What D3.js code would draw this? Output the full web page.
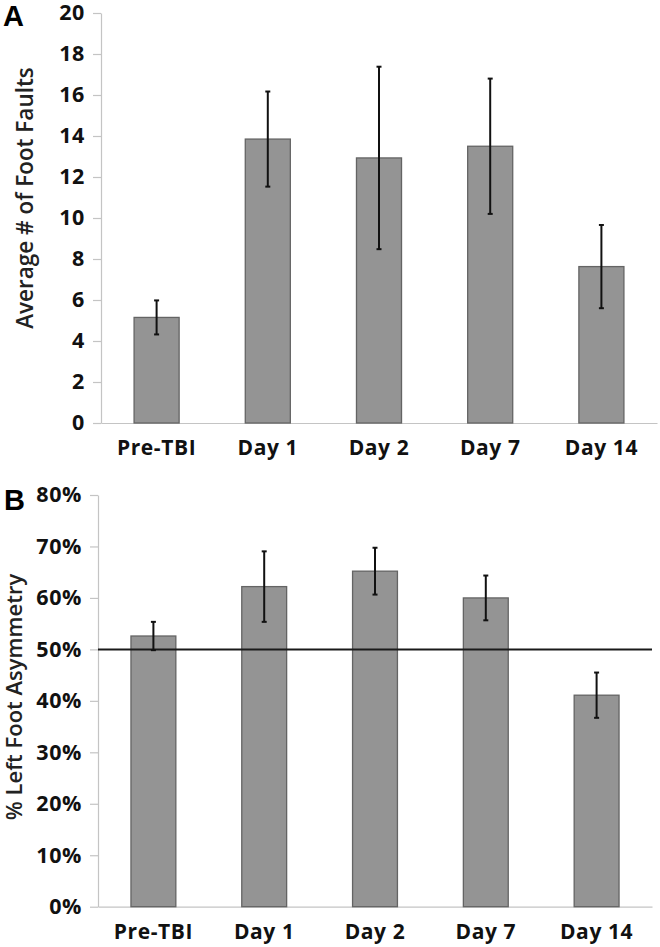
<!DOCTYPE html>
<html><head><meta charset="utf-8">
<script src="https://cdnjs.cloudflare.com/ajax/libs/d3/7.8.5/d3.min.js"></script>
<style>
html,body{margin:0;padding:0;background:#fff;}
svg{display:block;}
</style></head>
<body>
<svg id="chart" width="660" height="947"></svg>
<script>
const categories = ["Pre-TBI","Day 1","Day 2","Day 7","Day 14"];
const footFaults = [5.15, 13.85, 12.93, 13.5, 7.63];
const footFaultsErr = [0.83, 2.32, 4.45, 3.3, 2.03];
const asymmetry = [0.526, 0.622, 0.652, 0.600, 0.411];
const asymmetryErr = [0.0275, 0.0685, 0.0455, 0.0435, 0.044];
const faultTicks = [0,2,4,6,8,10,12,14,16,18,20];
const asymTicks = [0,0.1,0.2,0.3,0.4,0.5,0.6,0.7,0.8];
const referenceLine = 0.5;

const svg = d3.select("#chart");
const FONT = "'Open Sans', sans-serif";
const BAR_FILL = "#949494", BAR_STROKE = "#646464", AXIS = "#c4c4c4";

function panel(cfg){
  const g = svg.append("g");
  const x = d3.scaleBand().domain(categories).range(cfg.xr).paddingInner(0.595).paddingOuter(0.2975);
  const y = d3.scaleLinear().domain(cfg.yd).range(cfg.yr);

  // y axis
  const ya = g.append("g").attr("transform", `translate(${cfg.xr[0]},0)`)
    .call(d3.axisLeft(y).tickValues(cfg.ticks).tickFormat(cfg.fmt).tickSize(8).tickSizeOuter(0).tickPadding(8));
  ya.select(".domain").attr("stroke", AXIS).attr("stroke-width", 1.2);
  ya.selectAll(".tick line").attr("stroke", AXIS).attr("stroke-width", 1.2);
  ya.selectAll(".tick text").attr("font-family", FONT).attr("font-weight", 700)
    .attr("font-size", 21.5).attr("letter-spacing", 0.6).attr("fill", "#111");

  // x axis
  const xa = g.append("g").attr("transform", `translate(0,${cfg.yr[0]})`)
    .call(d3.axisBottom(x).tickSize(0).tickSizeOuter(0).tickPadding(17));
  xa.select(".domain").attr("stroke", AXIS).attr("stroke-width", 1.2);
  xa.selectAll(".tick text").attr("font-family", FONT).attr("font-weight", 700)
    .attr("font-size", 21).attr("letter-spacing", 0.6).attr("fill", "#111");

  // bars
  g.selectAll("rect.bar").data(cfg.values).join("rect").attr("class","bar")
    .attr("x", (d,i)=>x(categories[i])).attr("width", x.bandwidth())
    .attr("y", d=>y(d)).attr("height", d=>y(0)-y(d))
    .attr("fill", BAR_FILL).attr("stroke", BAR_STROKE).attr("stroke-width", 1.3);

  // reference line
  if (cfg.ref !== undefined) {
    g.append("line").attr("x1", cfg.xr[0]).attr("x2", cfg.xr[1])
      .attr("y1", y(cfg.ref)).attr("y2", y(cfg.ref))
      .attr("stroke", "#1a1a1a").attr("stroke-width", 2);
  }

  // error bars
  const eb = g.selectAll("g.err").data(cfg.values).join("g").attr("class","err");
  const cx = i => x(categories[i]) + x.bandwidth()/2;
  eb.append("line").attr("x1",(d,i)=>cx(i)).attr("x2",(d,i)=>cx(i))
    .attr("y1",(d,i)=>y(d+cfg.err[i])).attr("y2",(d,i)=>y(d-cfg.err[i]))
    .attr("stroke","#111").attr("stroke-width",2);
  [1,-1].forEach(s=>{
    eb.append("line").attr("x1",(d,i)=>cx(i)-2.5).attr("x2",(d,i)=>cx(i)+2.5)
      .attr("y1",(d,i)=>y(d+s*cfg.err[i])).attr("y2",(d,i)=>y(d+s*cfg.err[i]))
      .attr("stroke","#111").attr("stroke-width",2);
  });

  // y title
  g.append("text").attr("transform", `translate(${cfg.titleX},${cfg.titleY}) rotate(-90)`)
    .attr("text-anchor","middle").attr("font-family", FONT).attr("font-weight", 600)
    .attr("font-size", cfg.titleSize).attr("fill","#222").text(cfg.title);

  // panel letter
  g.append("text").attr("x", cfg.letterX).attr("y", cfg.letterY)
    .attr("font-family","'Liberation Sans', Arial, sans-serif").attr("font-weight",700)
    .attr("font-size", 29).attr("fill","#000").text(cfg.letter);
}

panel({xr:[101,657], yr:[423,13], yd:[0,20], ticks:faultTicks, fmt:d3.format("d"),
  values:footFaults, err:footFaultsErr, title:"Average # of Foot Faults", titleSize:22.5,
  titleX:33, titleY:198, letter:"A", letterX:3, letterY:26});

panel({xr:[98,652], yr:[906.7,495], yd:[0,0.8], ticks:asymTicks, fmt:d3.format(".0%"),
  values:asymmetry, err:asymmetryErr, title:"% Left Foot Asymmetry", ref:referenceLine, titleSize:22,
  titleX:21.5, titleY:697, letter:"B", letterX:4, letterY:510});
</script>
</body></html>
